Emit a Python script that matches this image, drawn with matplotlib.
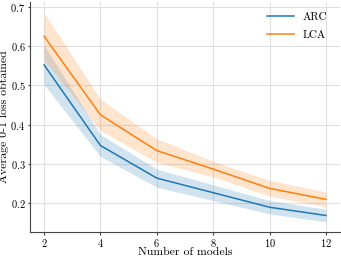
import numpy as np
import matplotlib
matplotlib.use("Agg")
import matplotlib.pyplot as plt

plt.rcParams["font.family"] = "serif"
plt.rcParams["font.serif"] = ["cmr10", "DejaVu Serif"]
plt.rcParams["axes.formatter.use_mathtext"] = True
plt.rcParams["mathtext.fontset"] = "cm"
plt.rcParams["font.size"] = 8

# Data
n_models = [2, 4, 6, 8, 10, 12]
arc_mean = [0.552, 0.347, 0.264, 0.227, 0.190, 0.169]
arc_err = [0.050, 0.028, 0.023, 0.020, 0.017, 0.016]
lca_mean = [0.625, 0.425, 0.334, 0.287, 0.238, 0.210]
lca_err = [0.060, 0.040, 0.030, 0.020, 0.020, 0.019]

arc_mean = np.array(arc_mean)
arc_err = np.array(arc_err)
lca_mean = np.array(lca_mean)
lca_err = np.array(lca_err)

fig = plt.figure(figsize=(3.41, 2.57), dpi=100)
ax = fig.add_axes([30 / 341, 25 / 257, 310 / 341, 230 / 257])

ax.plot(n_models, arc_mean, color="#1f77b4", lw=1.1, label="ARC")
ax.fill_between(n_models, arc_mean - arc_err, arc_mean + arc_err,
                color="#1f77b4", alpha=0.2, lw=0)
ax.plot(n_models, lca_mean, color="#ff7f0e", lw=1.1, label="LCA")
ax.fill_between(n_models, lca_mean - lca_err, lca_mean + lca_err,
                color="#ff7f0e", alpha=0.2, lw=0)

ax.set_xlim(1.5, 12.5)
ax.set_ylim(0.127, 0.712)
ax.set_xticks(n_models)
ax.set_yticks([0.2, 0.3, 0.4, 0.5, 0.6, 0.7])
ax.grid(True, color="#e0e0e0", lw=0.8)
ax.set_axisbelow(True)
for s in ["top", "right"]:
    ax.spines[s].set_visible(False)
for s in ["left", "bottom"]:
    ax.spines[s].set_color("#444444")
ax.tick_params(length=1.8, width=0.8, color="#444444", labelsize=7.5, pad=1.5)

ax.set_xlabel("Number of models", fontsize=8.5)
ax.set_ylabel("Average 0-1 loss obtained", fontsize=8.5)
ax.xaxis.set_label_coords(0.5, -0.066)
ax.yaxis.set_label_coords(-0.069, 0.5)
ax.legend(loc="upper right", frameon=False, fontsize=8, handlelength=2.4,
          labelspacing=0.75, borderaxespad=0.5, bbox_to_anchor=(0.99, 1.0))

plt.savefig("out.png", dpi=100)
